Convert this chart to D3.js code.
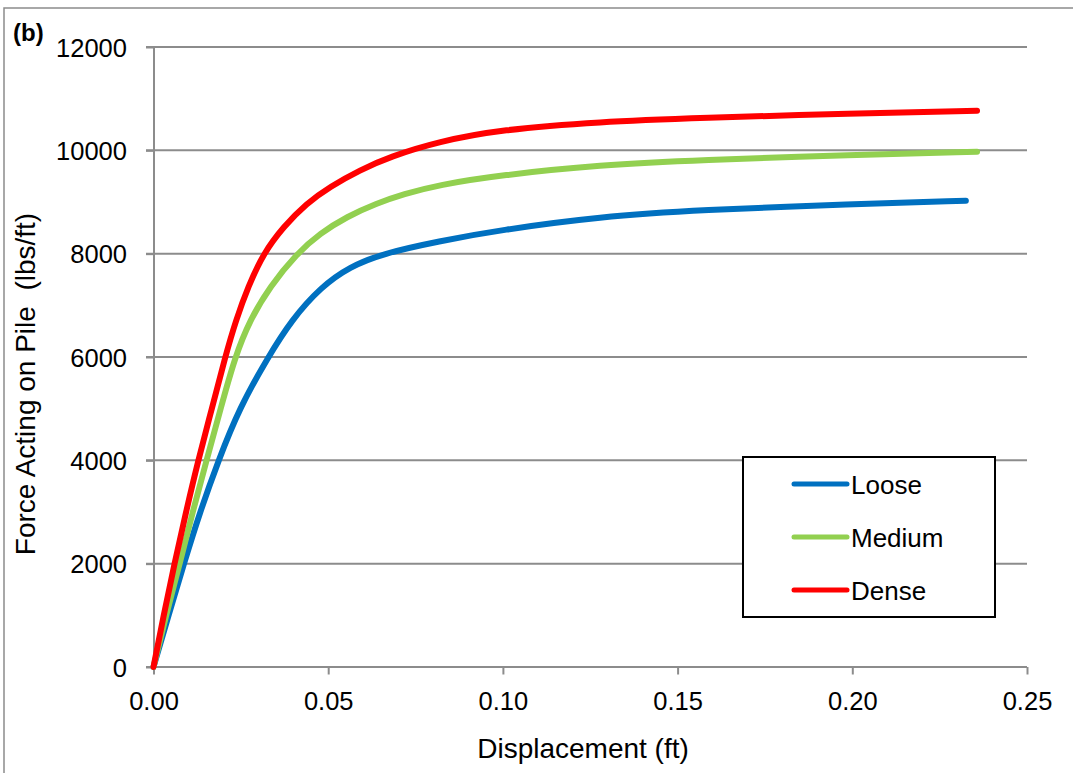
<!DOCTYPE html>
<html>
<head>
<meta charset="utf-8">
<script src="https://cdn.jsdelivr.net/npm/d3@7"></script>
<style>
  body { margin: 0; background: #fff; }
  text { font-family: Arial, "Liberation Sans", sans-serif; fill: #000; }
</style>
</head>
<body>
<script>
// values
var seriesNames = ['Loose', 'Medium', 'Dense'];
var seriesColors = ['#0070C0', '#92D050', '#FF0000'];

var looseDisp  = [0, 0.0043, 0.0087, 0.0133, 0.0186, 0.0245, 0.0328, 0.0395, 0.048, 0.0562, 0.0655, 0.0815, 0.0992, 0.1278, 0.1564, 0.20, 0.2325];
var looseForce = [0, 1000, 2000, 3000, 4000, 5000, 6000, 6716, 7361, 7748, 8000, 8240, 8458, 8716, 8845, 8961, 9025];

var mediumDisp  = [0, 0.0036, 0.0075, 0.0112, 0.0152, 0.0192, 0.0233, 0.0276, 0.0333, 0.041, 0.0477, 0.0553, 0.0639, 0.0715, 0.0815, 0.0992, 0.1278, 0.1564, 0.20, 0.2357];
var mediumForce = [0, 1000, 2000, 3000, 4000, 5000, 6000, 6716, 7361, 8000, 8394, 8716, 8974, 9150, 9329, 9520, 9716, 9813, 9909, 9973];

var denseDisp  = [0, 0.0029, 0.006, 0.0093, 0.0128, 0.0167, 0.0205, 0.0236, 0.0271, 0.0314, 0.0372, 0.0438, 0.0505, 0.0591, 0.0677, 0.0815, 0.0992, 0.1278, 0.1564, 0.20, 0.2357];
var denseForce = [0, 1000, 2000, 3000, 4000, 5000, 6000, 6716, 7361, 8000, 8522, 8974, 9296, 9619, 9877, 10168, 10400, 10555, 10625, 10717, 10766];

var xTicks = [0, 0.05, 0.10, 0.15, 0.20, 0.25];
var yTicks = [0, 2000, 4000, 6000, 8000, 10000, 12000];

var W = 1073, H = 773;
var plotLeft = 153.5, plotRight = 1027, plotTop = 47, plotBottom = 667;

var svg = d3.select('body').append('svg')
    .attr('width', W)
    .attr('height', H);

// outer chart border
svg.append('rect')
    .attr('x', 4).attr('y', 8)
    .attr('width', W + 20).attr('height', H + 20)
    .attr('fill', 'none')
    .attr('stroke', '#8c8c8c')
    .attr('stroke-width', 1.5);

var x = d3.scaleLinear().domain([0, 0.25]).range([plotLeft, plotRight]);
var y = d3.scaleLinear().domain([0, 12000]).range([plotBottom, plotTop]);

// horizontal gridlines
svg.append('g').selectAll('line')
  .data(yTicks)
  .enter()
    .append('line')
    .attr('x1', plotLeft - 7.5)
    .attr('x2', plotRight)
    .attr('y1', function(d){ return y(d); })
    .attr('y2', function(d){ return y(d); })
    .attr('stroke', '#8c8c8c')
    .attr('stroke-width', 2);

// y axis
var yAxis = svg.append('g')
    .attr('transform', 'translate(' + plotLeft + ',0)')
    .call(d3.axisLeft(y).tickValues(yTicks).tickFormat(d3.format('d')).tickSize(7.5).tickSizeOuter(0).tickPadding(19));
yAxis.select('.domain').attr('stroke', '#8c8c8c').attr('stroke-width', 2);
yAxis.selectAll('.tick line').attr('stroke', '#8c8c8c').attr('stroke-width', 2);
yAxis.selectAll('.tick text').attr('font-size', '25.5px').attr('font-family', 'Arial, "Liberation Sans", sans-serif').attr('dy', '0.36em');

// x axis
var xAxis = svg.append('g')
    .attr('transform', 'translate(0,' + plotBottom + ')')
    .call(d3.axisBottom(x).tickValues(xTicks).tickFormat(d3.format('.2f')).tickSize(7.5).tickSizeOuter(0).tickPadding(17));
xAxis.select('.domain').remove();
xAxis.selectAll('.tick line').attr('stroke', '#8c8c8c').attr('stroke-width', 2);
xAxis.selectAll('.tick text').attr('font-size', '25.5px').attr('font-family', 'Arial, "Liberation Sans", sans-serif');

// curves
var allDisp = [looseDisp, mediumDisp, denseDisp];
var allForce = [looseForce, mediumForce, denseForce];

var line = d3.line()
    .x(function(d){ return x(d[0]); })
    .y(function(d){ return y(d[1]); })
    .curve(d3.curveBasis);

seriesNames.forEach(function(name, i){
  var pts = allDisp[i].map(function(dx, j){ return [dx, allForce[i][j]]; });
  svg.append('path')
    .datum(pts)
    .attr('d', line)
    .attr('fill', 'none')
    .attr('stroke', seriesColors[i])
    .attr('stroke-width', 6)
    .attr('stroke-linecap', 'round')
    .attr('stroke-linejoin', 'round');
});

// legend
var legend = svg.append('g');
legend.append('rect')
    .attr('x', 743).attr('y', 457)
    .attr('width', 252).attr('height', 160)
    .attr('fill', '#fff')
    .attr('stroke', '#000')
    .attr('stroke-width', 2);

seriesNames.forEach(function(name, i){
  var ly = 484 + i * 53;
  legend.append('line')
    .attr('x1', 794).attr('x2', 847)
    .attr('y1', ly).attr('y2', ly)
    .attr('stroke', seriesColors[i])
    .attr('stroke-width', 5)
    .attr('stroke-linecap', 'round');
  legend.append('text')
    .attr('x', 851).attr('y', ly + 10)
    .attr('font-size', '26px')
    .text(name);
});

// titles
svg.append('text')
    .attr('x', 583).attr('y', 758)
    .attr('text-anchor', 'middle')
    .attr('font-size', '28px')
    .text('Displacement (ft)');

svg.append('text')
    .attr('transform', 'translate(35,384) rotate(-90)')
    .attr('text-anchor', 'middle')
    .attr('font-size', '28px')
    .style('white-space', 'pre')
    .text('Force Acting on Pile  (lbs/ft)');

svg.append('text')
    .attr('x', 13).attr('y', 41)
    .attr('font-size', '24px')
    .attr('font-weight', 'bold')
    .text('(b)');
</script>
</body>
</html>
